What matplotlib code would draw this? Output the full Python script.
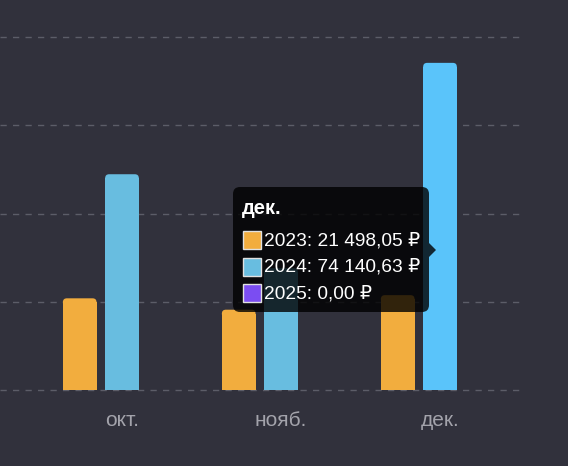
import matplotlib
matplotlib.use("Agg")
import matplotlib.pyplot as plt
from matplotlib.patches import FancyBboxPatch, Polygon, Rectangle

plt.rcParams['font.family'] = ['Liberation Sans', 'DejaVu Sans']

months = ["окт.", "нояб.", "дек."]
years = ["2023", "2024", "2025"]
vals_2023 = [20780, 18200, 21498.05]
vals_2024 = [48900, 27600, 74140.63]
vals_2025 = [0, 0, 0.00]
yticks = [0, 20000, 40000, 60000, 80000]

bg = "#31313c"
c2023 = "#f2ad3e"
c2024 = ["#68bde0", "#68bde0", "#5ac4fa"]   # last one is hovered
c2025 = "#7b4df2"

W, H = 568, 466
fig = plt.figure(figsize=(W / 100, H / 100), dpi=100, facecolor=bg)

# axes placed in pixels: x 0..520, y 0..395 (baseline at 390)
ax = fig.add_axes([0, (H - 395) / H, 520 / W, 395 / H], facecolor=bg)
px_per_unit_y = 88.25 / 20000
ax.set_xlim(-122 / 159, 2 + 80 / 159)
ax.set_ylim(-5 / px_per_unit_y, 390 / px_per_unit_y)

for s in ax.spines.values():
    s.set_visible(False)
ax.set_yticks(yticks)
ax.tick_params(left=False, bottom=False, labelleft=False, labelbottom=False)
ax.yaxis.grid(True, color="#5c5d68", linewidth=1, linestyle=(0, (4.5, 4.5)))
ax.set_axisbelow(True)

x = range(len(months))
off = 0.266
bw = 0.212
b1 = ax.bar([i - off for i in x], vals_2023, bw, color=c2023)
b2 = ax.bar(list(x), vals_2024, bw, color=c2024)
b3 = ax.bar([i + off for i in x], vals_2025, bw, color=c2025)

# rounded tops
rx = 4 / 159
ry = 4 / px_per_unit_y
for bars in (b1, b2, b3):
    for b in bars:
        h = b.get_height()
        if h <= 0:
            continue
        b.set_height(h - ry)
        ax.add_patch(FancyBboxPatch((b.get_x(), h - 2 * ry), b.get_width(), 2 * ry,
                                    boxstyle=f"round,pad=0,rounding_size={rx}",
                                    mutation_aspect=ry / rx,
                                    facecolor=b.get_facecolor(), edgecolor="none"))

# month labels
for i, m in enumerate(months):
    ax.text(i, -31 / px_per_unit_y, m, ha="center", va="center",
            fontsize=15, color="#a3a3ab", clip_on=False)

# tooltip overlay in pixel coordinates
ov = fig.add_axes([0, 0, 1, 1])
ov.set_xlim(0, W)
ov.set_ylim(H, 0)
ov.axis("off")
ov.patch.set_alpha(0)

tip_a = 0.8
ov.add_patch(FancyBboxPatch((233, 187), 196, 125,
                            boxstyle="round,pad=0,rounding_size=7",
                            facecolor="black", edgecolor="none", alpha=tip_a))
ov.add_patch(Polygon([(429, 243), (436, 250), (429, 257)], closed=True,
                     facecolor="black", edgecolor="none", alpha=tip_a))

k = 2
ov.text(242, 208, months[k], fontsize=14.5, fontweight="bold", color="white",
        ha="left", va="center")


def rub(v):
    s = f"{v:,.2f}".replace(",", " ").replace(".", ",")
    return s + " ₽"


rows = [(years[0], vals_2023[k], c2023),
        (years[1], vals_2024[k], "#68bde0"),
        (years[2], vals_2025[k], c2025)]
for j, (yr, v, c) in enumerate(rows):
    yc = 240 + j * 26.5
    ov.add_patch(Rectangle((242.5, yc - 9), 18, 18, facecolor=c,
                           edgecolor="#e0e0e0", linewidth=1))
    ov.text(264, yc + 1, f"{yr}: {rub(v)}", fontsize=13.8, color="white",
            ha="left", va="center")

fig.savefig("out.png", dpi=100, facecolor=bg)
